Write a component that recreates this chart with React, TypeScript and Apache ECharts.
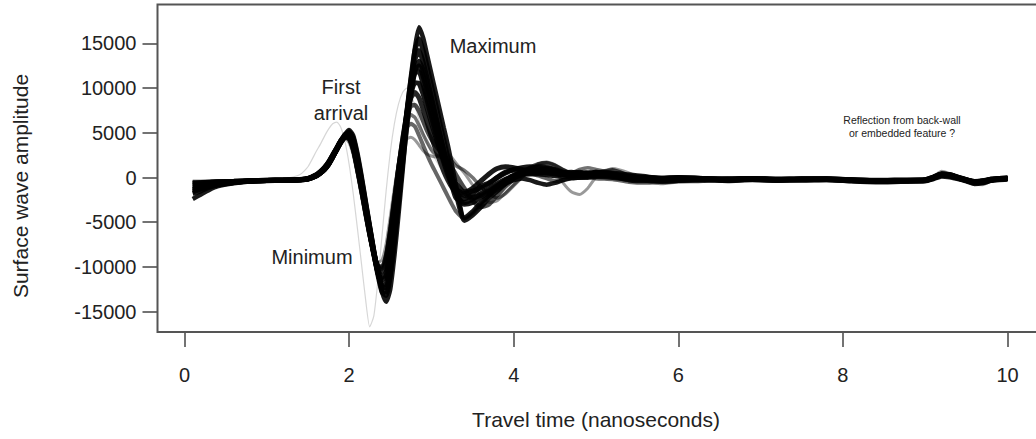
import React, { useEffect, useRef } from "react";
import * as echarts from "echarts";

// Travel time samples (ns), shared by every trace
const TIME = [
  0.1, 0.2, 0.3, 0.4, 0.6, 0.8, 1.0, 1.2, 1.4, 1.5,
  1.6, 1.65, 1.7, 1.75, 1.8, 1.85, 1.9, 1.95, 2.0, 2.05,
  2.1, 2.15, 2.2, 2.25, 2.3, 2.35, 2.4, 2.45, 2.5, 2.55,
  2.6, 2.65, 2.7, 2.75, 2.8, 2.85, 2.9, 2.95, 3.0, 3.05,
  3.1, 3.15, 3.2, 3.25, 3.3,
  3.4, 3.5, 3.6, 3.7, 3.8, 3.9, 4.0, 4.1, 4.2, 4.3, 4.4, 4.5, 4.6, 4.7, 4.8, 4.9, 5.0,
  5.2, 5.4, 5.6, 5.8, 6.0,
  6.3, 6.6, 6.9, 7.2, 7.5, 7.8, 8.1, 8.4, 8.7, 9.0,
  9.1, 9.2, 9.3, 9.4, 9.5, 9.6, 9.7, 9.8, 9.9, 10.0,
];

const TRACE_A = [
  -2400, -1900, -1400, -1000, -650, -450, -380, -350, -300, -200,
  150, 450, 850, 1400, 2200, 3100, 4000, 4800, 5300, 4700,
  2800, 300, -2500, -5300, -8000, -10600, -12800, -13900, -12500, -8800,
  -4200, 700, 5800, 10500, 14500, 16800, 15600, 13600, 11600, 9600,
  7600, 5600, 3600, 1400, -900,
  -4500, -3800, -2800, -2000, -1300, -700, -300, -100, -300, -600, -800, -600, -300, -100, 0, 100, 200,
  100, -300, -400, -400, -350,
  -200, -300, -200, -250, -250, -200, -350, -450, -400, -350,
  -100, 250, 150, -100, -350, -600, -500, -300, -200, -150,
];

const TRACE_B = [
  -1800, -1500, -1100, -850, -550, -400, -330, -300, -260, -170,
  180, 500, 900, 1500, 2300, 3200, 4100, 4800, 5000, 4200,
  2200, -300, -3000, -5700, -8400, -10900, -12800, -13200, -11000, -7200,
  -2800, 2000, 6800, 11000, 14200, 15500, 14200, 12300, 10300, 8300,
  6200, 4200, 2200, 200, -1700,
  -3000, -2800, -2200, -1700, -1000, -400, 100, 500, 700, 800, 700, 500, 350, 300, 250, 200, 300,
  200, 0, -100, -150, -100,
  -150, -250, -150, -250, -200, -200, -300, -400, -350, -300,
  -50, 300, 200, -50, -300, -500, -450, -250, -150, -100,
];

const TRACE_C = [
  -1300, -1100, -900, -750, -550, -400, -330, -300, -250, -150,
  200, 500, 900, 1500, 2300, 3100, 3900, 4500, 4800, 3900,
  1800, -700, -3300, -5900, -8500, -10700, -12200, -12300, -9800, -6000,
  -1800, 2800, 7200, 10800, 13200, 14200, 12900, 11000, 9000, 7000,
  5000, 3000, 1000, -900, -2300,
  -2800, -2400, -1800, -1300, -700, -200, 200, 400, 500, 600, 500, 400, 300, 300, 200, 200, 300,
  200, -50, -100, -150, -100,
  -150, -250, -150, -250, -200, -200, -300, -400, -350, -300,
  0, 300, 200, -50, -300, -500, -400, -250, -150, -100,
];

const TRACE_I = [
  -1600, -1300, -1000, -800, -560, -410, -340, -310, -270, -180,
  170, 480, 880, 1450, 2250, 3100, 4000, 4700, 5100, 4400,
  2400, -100, -2800, -5500, -8200, -10600, -12300, -12800, -10800, -7000,
  -2800, 1500, 5600, 9200, 11900, 13000, 12000, 10300, 8500, 6600,
  4800, 3000, 1300, -300, -1800,
  -4800, -4200, -3300, -2300, -1500, -700, -100, 300, 400, 400, 300, 200, 100, 0, 0, 0, 100,
  0, -200, -250, -250, -200,
  -250, -350, -250, -300, -300, -250, -400, -500, -450, -400,
  -150, 150, 50, -150, -400, -700, -600, -350, -250, -200,
];

const TRACE_L = [
  -1400, -1200, -950, -780, -540, -400, -330, -300, -255, -160,
  190, 490, 890, 1480, 2280, 3120, 3950, 4650, 4950, 4100,
  2000, -500, -3100, -5700, -8300, -10600, -12000, -11900, -9400, -5600,
  -1500, 2900, 6900, 10100, 12000, 12500, 11300, 9500, 7600, 5700,
  3900, 2300, 900, -400, -1300,
  -1800, -1500, -1200, -700, 0, 600, 800, 700, 500, 500, 600, 600, 500, 300, 400, 500, 600,
  500, 300, 100, -100, -50,
  -100, -200, -150, -200, -200, -150, -250, -350, -300, -250,
  0, 350, 250, 0, -250, -500, -400, -200, -100, -50,
];

const TRACE_D = [
  -900, -800, -700, -600, -480, -380, -320, -290, -240, -120,
  250, 550, 1000, 1600, 2400, 3200, 4000, 4500, 4600, 3600,
  1500, -900, -3400, -6000, -8400, -10300, -11200, -10600, -8000, -4400,
  -500, 3500, 7200, 10000, 11700, 11800, 10400, 8600, 6800, 5000,
  3300, 1700, 300, -900, -1800,
  -2400, -1800, -1000, -600, 0, 500, 900, 1100, 1200, 1100, 900, 700, 500, 600, 500, 400, 500,
  400, 100, 0, -100, 0,
  -100, -200, -100, -200, -150, -150, -250, -350, -300, -250,
  50, 400, 300, 50, -250, -450, -350, -200, -100, -50,
];

const TRACE_J = [
  -1100, -950, -800, -680, -520, -390, -330, -300, -250, -140,
  220, 520, 950, 1550, 2350, 3200, 4000, 4600, 4700, 3700,
  1600, -900, -3500, -6100, -8600, -10500, -11500, -11000, -8400, -4800,
  -800, 3200, 6700, 9300, 10600, 10500, 9300, 7700, 6100, 4600,
  3200, 2000, 900, 0, -700,
  -1600, -1200, -400, 400, 1000, 1200, 1100, 900, 700, 800, 1000, 900, 600, 500, 600, 500, 400,
  300, 100, 0, -50, 0,
  -100, -150, -100, -200, -150, -150, -250, -300, -300, -250,
  50, 400, 300, 0, -250, -450, -400, -200, -100, -50,
];

const TRACE_E = [
  -700, -600, -550, -480, -420, -350, -300, -280, -220, -100,
  300, 650, 1100, 1700, 2500, 3300, 4100, 4600, 4500, 3300,
  1100, -1300, -3800, -6300, -8500, -10000, -10500, -9400, -6500, -3000,
  700, 4200, 7000, 8900, 9500, 8900, 7600, 6100, 4600, 3200,
  1900, 700, -300, -1100, -1600,
  -2000, -2200, -2000, -1500, -900, -300, 200, 700, 1000, 1200, 1100, 800, 500, 300, 300, 400, 600,
  300, -100, -200, -200, -150,
  -200, -300, -200, -300, -250, -250, -350, -450, -400, -350,
  -100, 250, 150, -100, -350, -600, -500, -300, -200, -150,
];

const TRACE_K = [
  -600, -550, -500, -450, -400, -340, -300, -275, -210, -90,
  320, 680, 1150, 1750, 2550, 3350, 4150, 4550, 4350, 3100,
  900, -1500, -4000, -6400, -8500, -9900, -10200, -8900, -6000, -2500,
  1100, 4300, 6700, 8000, 8100, 7400, 6300, 5200, 4300, 3600,
  3000, 2400, 1800, 1100, 300,
  -1200, -2600, -3300, -3000, -2000, -1000, -200, 500, 1100, 1500, 1600, 1300, 800, 400, 200, 300, 500,
  800, 200, -200, -500, -400,
  -350, -150, -250, -350, -200, -250, -300, -400, -300, -300,
  -50, 400, 300, 0, -300, -600, -600, -300, -150, -100,
];

const TRACE_F = [
  -500, -480, -450, -420, -380, -330, -300, -270, -200, -80,
  350, 700, 1200, 1800, 2600, 3400, 4200, 4500, 4200, 2900,
  700, -1700, -4200, -6600, -8600, -9800, -9900, -8400, -5500, -2000,
  1500, 4300, 6200, 7000, 6700, 5800, 4800, 3900, 3100, 2600,
  2300, 2200, 2100, 1800, 1300,
  800, 0, -1000, -1800, -2300, -1800, -900, 0, 800, 1500, 1700, 1400, 900, 500, 900, 1100, 900,
  500, 0, -300, -400, -300,
  -300, -200, -300, -150, -300, -200, -250, -500, -350, -300,
  0, 500, 350, 50, -250, -650, -550, -250, -100, -100,
];

const TRACE_M = [
  -550, -500, -470, -430, -390, -335, -300, -272, -205, -85,
  340, 690, 1180, 1780, 2580, 3380, 4180, 4520, 4250, 2950,
  750, -1650, -4150, -6550, -8600, -9800, -10000, -8600, -5700, -2200,
  1300, 4000, 5600, 6000, 5700, 4700, 3600, 2500, 1500, 600,
  -300, -1200, -2100, -3000, -3800,
  -4600, -4000, -3000, -2000, -1000, -300, 300, 600, 500, 200, -100, -400, -300, 0, 200, 100, -100,
  -200, -500, -600, -500, -400,
  -300, -350, -250, -300, -300, -250, -350, -450, -400, -350,
  -150, 200, 100, -100, -400, -650, -600, -350, -200, -150,
];

const TRACE_G = [
  -400, -400, -380, -360, -340, -310, -290, -260, -190, -60,
  400, 750, 1250, 1900, 2700, 3500, 4200, 4400, 3900, 2500,
  300, -2100, -4600, -6900, -8700, -9500, -9200, -7400, -4400, -1200,
  1600, 3400, 4300, 4500, 4200, 3600, 3000, 2600, 2400, 2300,
  2500, 2700, 2600, 2200, 1600,
  500, -800, -2000, -2800, -2600, -1700, -800, 100, 900, 1400, 1300, 800, -600, -1600, -1900, -1200, 0,
  1000, 500, -400, -700, -500,
  -400, -300, -100, -300, -200, -300, -200, -400, -500, -250,
  100, 700, 450, 100, -200, -700, -800, -400, -150, -50,
];

// faint early outlier trace
const TRACE_H = [
  -600, -550, -500, -450, -400, -350, -300, -150, 300, 1200,
  2900, 3700, 4600, 5400, 6000, 6200, 5600, 4000, 1500, -1800,
  -5600, -9600, -13600, -16700, -15500, -11500, -6500, -1500, 2800, 6000,
  8200, 9500, 10000, 9400, 8000, 6400, 5000, 3800, 2800, 2000,
  1200, 500, -200, -800, -1300,
  -2200, -2000, -1600, -1100, -600, -100, 300, 500, 600, 600, 500, 400, 300, 200, 200, 200, 300,
  200, 0, -100, -150, -100,
  -150, -250, -150, -250, -200, -200, -300, -400, -350, -300,
  -50, 300, 200, -50, -300, -500, -400, -250, -150, -100,
];

const X_TICKS = [0, 10, 2]; // min, max, step
const Y_TICKS = [-15000, 15000, 5000];

const TRACES: { data: number[]; color: string; width: number }[] = [
  { data: TRACE_H, color: "rgba(0,0,0,0.16)", width: 1.2 },
  { data: TRACE_G, color: "rgba(0,0,0,0.4)", width: 3 },
  { data: TRACE_M, color: "rgba(0,0,0,0.6)", width: 4 },
  { data: TRACE_F, color: "rgba(0,0,0,0.55)", width: 3.5 },
  { data: TRACE_K, color: "rgba(0,0,0,0.7)", width: 4.5 },
  { data: TRACE_E, color: "rgba(0,0,0,0.85)", width: 5 },
  { data: TRACE_J, color: "rgba(0,0,0,0.9)", width: 5 },
  { data: TRACE_D, color: "rgba(0,0,0,0.9)", width: 5 },
  { data: TRACE_L, color: "rgba(0,0,0,0.9)", width: 5 },
  { data: TRACE_C, color: "rgba(0,0,0,0.9)", width: 5 },
  { data: TRACE_I, color: "rgba(0,0,0,0.9)", width: 5 },
  { data: TRACE_B, color: "rgba(0,0,0,0.9)", width: 5 },
  { data: TRACE_A, color: "rgba(0,0,0,0.9)", width: 4.5 },
];

const FONT = '"Liberation Sans", Arial, sans-serif';
const TXT = "#222";

function label(text: string, x: number, y: number, size: number, extra: any = {}) {
  return {
    type: "text",
    x,
    y,
    silent: true,
    z: 20,
    ...extra,
    style: {
      text,
      fill: TXT,
      font: `${size}px ${FONT}`,
      align: "center",
      verticalAlign: "middle",
      textAlign: "center",
      textVerticalAlign: "middle",
    },
  };
}

export default function App() {
  const ref = useRef<HTMLDivElement>(null);
  useEffect(() => {
    const chart = echarts.init(ref.current!, null, { renderer: "svg" });
    const option: any = {
      animation: false,
      backgroundColor: "#fff",
      grid: { left: 184.5, top: 43.3, width: 823, height: 268.4 },
      xAxis: {
        type: "value",
        min: X_TICKS[0],
        max: X_TICKS[1],
        interval: X_TICKS[2],
        offset: 20.3,
        axisLine: { show: false, onZero: false },
        splitLine: { show: false },
        axisTick: { show: true, length: 15, lineStyle: { color: "#444", width: 1.5 } },
        axisLabel: { color: TXT, fontSize: 20, fontFamily: FONT, margin: 33 },
      },
      yAxis: {
        type: "value",
        min: Y_TICKS[0],
        max: Y_TICKS[1],
        interval: Y_TICKS[2],
        offset: 27,
        axisLine: { show: false, onZero: false },
        splitLine: { show: false },
        axisTick: { show: true, length: 15, lineStyle: { color: "#444", width: 1.5 } },
        axisLabel: {
          color: TXT,
          fontSize: 20,
          fontFamily: FONT,
          margin: 21,
          formatter: (v: number) => String(v),
        },
      },
      series: TRACES.map((t) => ({
        type: "line",
        data: TIME.map((x, i) => [x, t.data[i]]),
        symbol: "none",
        showSymbol: false,
        clip: false,
        silent: true,
        smooth: 0.2,
        lineStyle: { color: t.color, width: t.width },
      })),
      graphic: [
        {
          type: "rect",
          silent: true,
          z: 15,
          shape: { x: 157.5, y: 4.5, width: 900, height: 327.5 },
          style: { fill: "none", stroke: "#555", lineWidth: 2 },
        },
        label("First", 341, 87, 20),
        label("arrival", 341, 113, 20),
        label("Minimum", 312, 257, 20),
        label("Maximum", 493, 46, 20),
        label("Reflection from back-wall", 902, 120, 10.5),
        label("or embedded feature ?", 902, 133, 10.5),
        label("Travel time (nanoseconds)", 596, 419, 21),
        label("Surface wave amplitude", 20, 186, 21, { rotation: Math.PI / 2 }),
      ],
    };
    chart.setOption(option);
    return () => chart.dispose();
  }, []);
  return (
    <div
      ref={ref}
      style={{ position: "fixed", left: 0, top: 0, width: 1036, height: 439, background: "#fff" }}
    />
  );
}
